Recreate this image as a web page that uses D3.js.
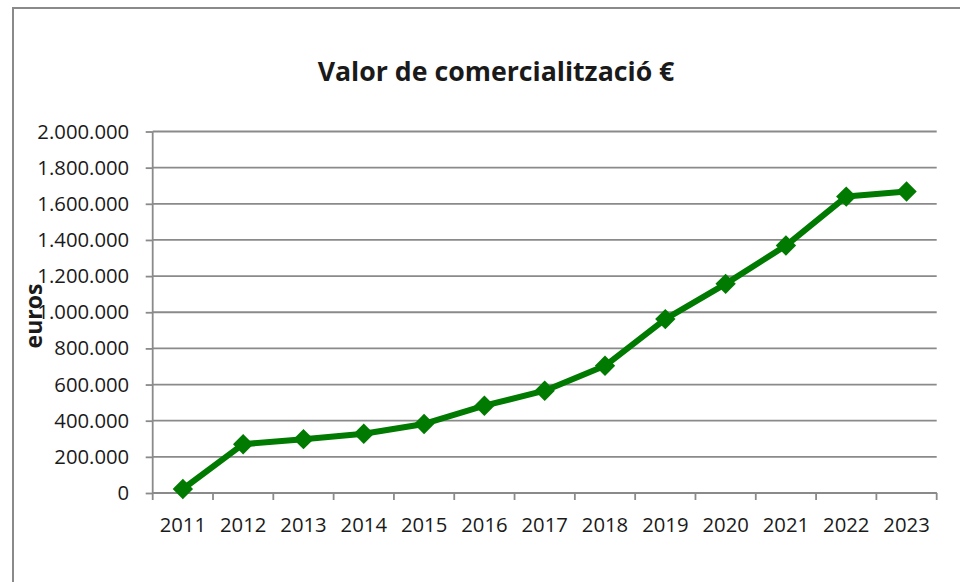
<!DOCTYPE html>
<html>
<head>
<meta charset="utf-8">
<script src="https://cdn.jsdelivr.net/npm/d3@7"></script>
<style>
  body { margin: 0; background: #fff; }
  text { font-family: "Open Sans", sans-serif; fill: #1a1a1a; }
</style>
</head>
<body>
<div id="chart"></div>
<script>
// data
var years = ["2011", "2012", "2013", "2014", "2015", "2016", "2017", "2018", "2019", "2020", "2021", "2022", "2023"];
var values = [22000, 270000, 298000, 328000, 382000, 483000, 566000, 704000, 962000, 1157000, 1369000, 1640000, 1668000];
var yTicks = [0, 200000, 400000, 600000, 800000, 1000000, 1200000, 1400000, 1600000, 1800000, 2000000];
var chartTitle = "Valor de comercialització €";
var yTitle = "euros";

var W = 960, H = 582;
var margin = {top: 131.5, right: 23.3, bottom: 89, left: 152.7},
    width = W - margin.left - margin.right,
    height = H - margin.top - margin.bottom;

var svg = d3.select("#chart")
  .append("svg")
  .attr("width", W)
  .attr("height", H);

// outer frame (runs off the right and bottom edges)
svg.append("rect")
  .attr("x", 13).attr("y", 8)
  .attr("width", 980).attr("height", 600)
  .attr("fill", "none")
  .attr("stroke", "#8a8a8a")
  .attr("stroke-width", 2);

var g = svg.append("g")
  .attr("transform", `translate(${margin.left},${margin.top})`);

var x = d3.scaleBand()
  .domain(years)
  .range([0, width])
  .padding(0);

var y = d3.scaleLinear()
  .domain([0, 2000000])
  .range([height, 0]);

var locale = d3.formatLocale({decimal: ",", thousands: ".", grouping: [3], currency: ["", "€"]});
var fmt = locale.format(",d");

// gridlines
g.append("g")
  .selectAll("line")
  .data(yTicks)
  .join("line")
  .attr("x1", 0)
  .attr("x2", width)
  .attr("y1", d => y(d))
  .attr("y2", d => y(d))
  .attr("stroke", "#8a8a8a")
  .attr("stroke-width", 1.8);

// Y axis
var yAxis = g.append("g")
  .call(d3.axisLeft(y).tickValues(yTicks).tickFormat(fmt).tickSize(7).tickPadding(16.5));
yAxis.selectAll("line").attr("stroke", "#8a8a8a").attr("stroke-width", 1.8);
yAxis.select(".domain").remove();
yAxis.selectAll("text")
  .style("font-family", '"Open Sans", sans-serif')
  .style("font-size", "20.3px")
  .attr("fill", "#1a1a1a");
g.append("line")
  .attr("x1", 0).attr("x2", 0)
  .attr("y1", 0).attr("y2", height)
  .attr("stroke", "#8a8a8a")
  .attr("stroke-width", 1.8);

// X axis: labels at band centres, tick marks at band edges
var xAxis = g.append("g")
  .attr("transform", "translate(0," + height + ")")
  .call(d3.axisBottom(x).tickSize(0).tickPadding(25));
xAxis.select(".domain").remove();
xAxis.selectAll("text")
  .style("font-family", '"Open Sans", sans-serif')
  .style("font-size", "20.3px")
  .attr("fill", "#1a1a1a");

g.append("line")
  .attr("x1", 0).attr("x2", width)
  .attr("y1", height).attr("y2", height)
  .attr("stroke", "#8a8a8a")
  .attr("stroke-width", 1.8);

var edges = years.map(d => x(d)).concat([width]);
g.append("g")
  .selectAll("line")
  .data(edges)
  .join("line")
  .attr("x1", d => d).attr("x2", d => d)
  .attr("y1", height).attr("y2", height + 7)
  .attr("stroke", "#8a8a8a")
  .attr("stroke-width", 1.8);

var pts = years.map((d, i) => ({year: d, value: values[i]}));

var line = d3.line()
  .x(d => x(d.year) + x.bandwidth() / 2)
  .y(d => y(d.value));

g.append("path")
  .datum(pts)
  .attr("d", line)
  .attr("fill", "none")
  .attr("stroke", "#007a00")
  .attr("stroke-width", 6)
  .attr("stroke-linejoin", "round");

g.append("g")
  .selectAll("path")
  .data(pts)
  .join("path")
  .attr("transform", d => `translate(${x(d.year) + x.bandwidth() / 2},${y(d.value)}) rotate(45)`)
  .attr("d", "M-7.2,-7.2H7.2V7.2H-7.2Z")
  .attr("fill", "#007a00");

// title
svg.append("text")
  .attr("x", 496)
  .attr("y", 81)
  .attr("text-anchor", "middle")
  .style("font-size", "26.7px")
  .style("font-weight", "bold")
  .text(chartTitle);

// y axis title
svg.append("text")
  .attr("transform", "translate(42,316) rotate(-90)")
  .attr("text-anchor", "middle")
  .style("font-size", "23px")
  .style("font-weight", "bold")
  .text(yTitle);
</script>
</body>
</html>
